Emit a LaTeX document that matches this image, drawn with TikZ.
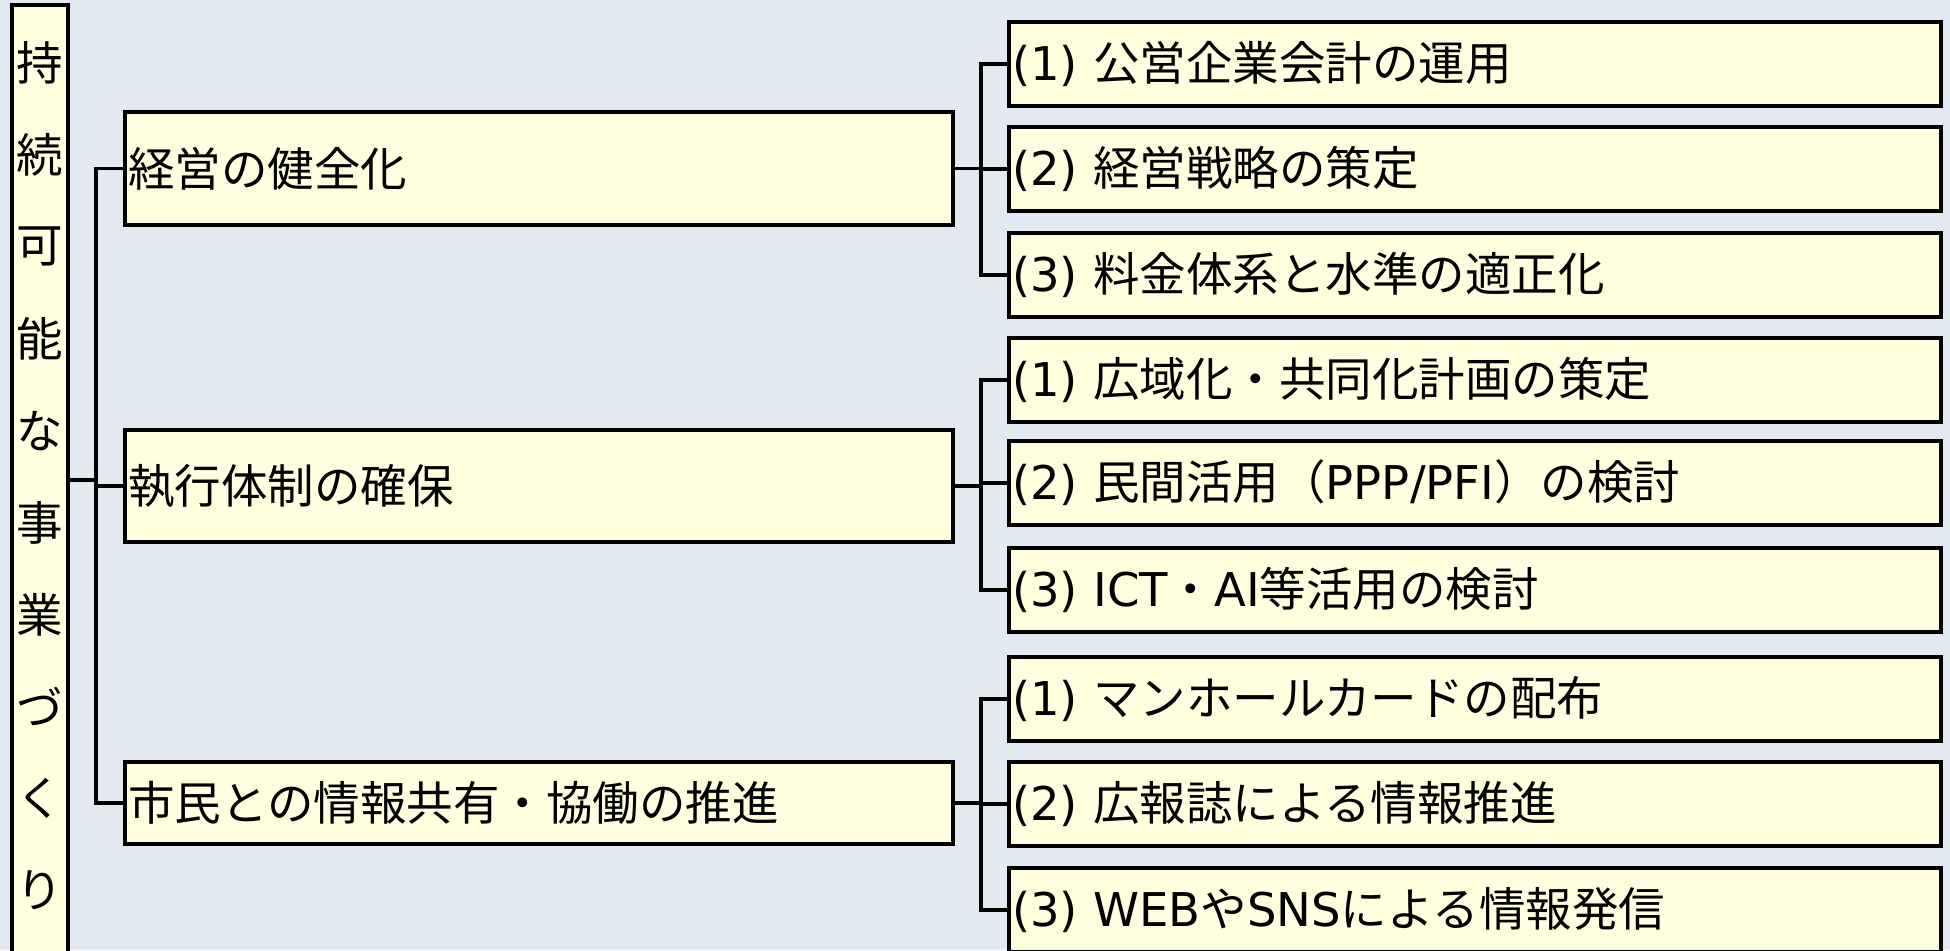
\documentclass[tikz,border=0pt]{standalone}
\usepackage{fontspec}
\newfontfamily\jp{Noto Sans CJK JP}
\newfontfamily\lat{DejaVu Sans}
\definecolor{bg}{HTML}{E2E9F1}
\definecolor{boxfill}{HTML}{FFFFE0}
\begin{document}
\begin{tikzpicture}[x=1pt,y=-1pt,
  box/.style={draw=black, line width=3.3pt, fill=boxfill, anchor=north west,
    inner xsep=3pt, inner ysep=0pt, outer sep=0pt,
    font=\jp\fontsize{46.5}{56}\selectfont, align=left},
  vchar/.style={inner sep=0pt, font=\jp\fontsize{46.5}{56}\selectfont},
  conn/.style={line width=3.3pt, draw=black}]
\useasboundingbox (0,0) rectangle (1950,950);
\clip (0,0) rectangle (1950,950);
\fill[bg] (0,0) rectangle (1950,950);

% left vertical title box
\node[box, minimum width=56pt, minimum height=1000pt] (L) at (12,5) {};
\foreach \ch [count=\i] in {持,続,可,能,な,事,業,づ,く,り}
  \node[vchar] (v\i) at (40,{63+91.9*(\i-1)}) {\ch};

% middle boxes
\node[box, minimum width=828pt, minimum height=113pt, text width=822pt] (B1) at (125,112) {経営の健全化};
\node[box, minimum width=828pt, minimum height=112pt, text width=822pt] (B2) at (125,430) {執行体制の確保};
\node[box, minimum width=828pt, minimum height=82pt, text width=822pt] (B3) at (125,762) {市民との情報共有・協働の推進};

% right boxes
\tikzset{rbox/.style={box, minimum width=932pt, minimum height=84pt, text width=926pt}}
\node[rbox] (R1) at (1009,22) {{\lat (1) }公営企業会計の運用};
\node[rbox] (R2) at (1009,127) {{\lat (2) }経営戦略の策定};
\node[rbox] (R3) at (1009,233) {{\lat (3) }料金体系と水準の適正化};
\node[rbox] (R4) at (1009,338) {{\lat (1) }広域化・共同化計画の策定};
\node[rbox] (R5) at (1009,441) {{\lat (2) }民間活用（{\lat PPP/PFI}）の検討};
\node[rbox] (R6) at (1009,548) {{\lat (3) ICT}・{\lat AI}等活用の検討};
\node[rbox] (R7) at (1009,657) {{\lat (1) }マンホールカードの配布};
\node[rbox] (R8) at (1009,762) {{\lat (2) }広報誌による情報推進};
\node[rbox] (R9) at (1009,868) {{\lat (3) WEB}や{\lat SNS}による情報発信};

% left connectors
\coordinate (j0) at (96,480);
\draw[conn] (L.east |- j0) -- (j0) |- (B1.west);
\draw[conn] (j0) |- (B3.west);
\draw[conn] (j0 |- B2.west) -- (B2.west);

% right connectors
\coordinate (k) at (981,0);
\draw[conn] (B1.east) -- (B1.east -| k) |- (R1.west);
\draw[conn] (B1.east -| k) |- (R3.west);
\draw[conn] (k |- R2.west) -- (R2.west);

\draw[conn] (B2.east) -- (B2.east -| k) |- (R4.west);
\draw[conn] (B2.east -| k) |- (R6.west);
\draw[conn] (k |- R5.west) -- (R5.west);

\draw[conn] (B3.east) -- (B3.east -| k) |- (R7.west);
\draw[conn] (B3.east -| k) |- (R9.west);
\draw[conn] (k |- R8.west) -- (R8.west);
\end{tikzpicture}
\end{document}
